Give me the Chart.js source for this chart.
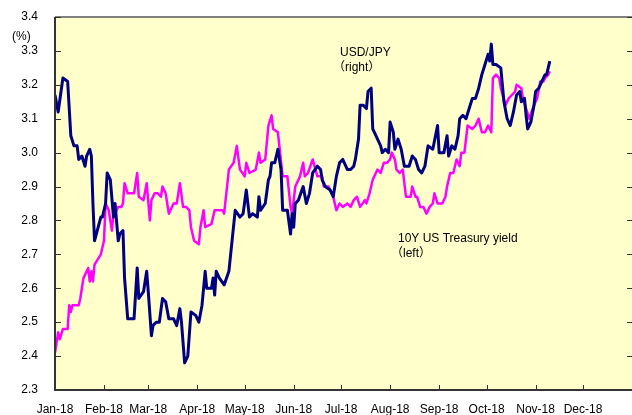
<!DOCTYPE html>
<html>
<head>
<meta charset="utf-8">
<script src="https://cdn.jsdelivr.net/npm/chart.js@4/dist/chart.umd.min.js"></script>
<style>
  html, body { margin: 0; padding: 0; background: #ffffff; }
  #wrap { width: 632px; height: 415px; }
</style>
</head>
<body>
<div id="wrap"><canvas id="chart" width="632" height="415"></canvas></div>
<script>

// =========================
// DATA
// =========================

// x axis: day of year 2018 (0 = Jan 1)
const monthStarts = [0, 31, 59, 90, 120, 151, 181, 212, 243, 273, 304, 334, 365];
const monthLabels = ["Jan-18", "Feb-18", "Mar-18", "Apr-18", "May-18", "Jun-18",
    "Jul-18", "Aug-18", "Sep-18", "Oct-18", "Nov-18", "Dec-18"];

const yieldTicks = [2.3, 2.4, 2.5, 2.6, 2.7, 2.8, 2.9, 3.0, 3.1, 3.2, 3.3, 3.4];
const jpyTicks = [104, 105, 106, 107, 108, 109, 110, 111, 112, 113, 114, 115];

// USD/JPY (right axis)
const jpyDays = [0, 2, 5, 8, 10, 12, 14, 15, 17, 19, 20, 22, 23, 24, 25, 29, 30, 32, 33, 35,
    37, 38, 40, 41, 43, 44, 46, 50, 52, 53, 56, 58, 59, 61, 62, 64, 66, 68, 70, 72,
    75, 77, 79, 80, 82, 84, 86, 89, 91, 93, 95, 96, 99, 100, 101, 102, 104, 107, 110, 114,
    117, 119, 121, 123, 125, 128, 129, 130, 133, 135, 136, 137, 139, 141, 143, 144, 147, 149, 150, 151,
    152, 154, 157, 159, 161, 163, 166, 168, 169, 171, 174, 176, 178, 180, 182, 185, 187, 189, 190, 192,
    193, 195, 197, 198, 200, 201, 203, 206, 207, 209, 211, 212, 214, 215, 217, 219, 221, 224, 226, 228,
    230, 232, 234, 236, 239, 242, 243, 246, 248, 249, 251, 253, 255, 256, 258, 260, 262, 264, 266, 268,
    270, 272, 274, 275, 276, 277, 279, 282, 284, 286, 288, 290, 292, 294, 295, 297, 298, 299, 301, 303,
    304, 306, 308, 310, 311, 313];
const jpyRate = [112.7, 112.2, 113.2, 113.1, 111.5, 111.2, 111.2, 110.8, 110.9, 110.6, 110.9, 111.1, 110.9, 109.5, 108.4, 109.1, 109.1, 109.5, 110.4, 110.2,
    109.1, 109.5, 108.4, 108.6, 108.7, 107.3, 106.1, 106.1, 107.6, 106.7, 106.9, 107.5, 106.9, 105.6, 105.9, 106.0, 106.0, 106.7, 106.6, 106.1,
    106.1, 105.9, 106.4, 106.0, 104.8, 105.0, 106.3, 106.2, 106.0, 106.5, 107.5, 107.0, 107.0, 107.3, 106.8, 107.5, 107.3, 107.1, 107.5, 109.3,
    109.1, 109.2, 109.9, 109.1, 109.2, 109.1, 109.7, 109.3, 109.5, 110.2, 110.3, 110.7, 110.7, 111.1, 110.5, 109.3, 109.3, 108.6, 109.2, 108.8,
    109.5, 109.6, 110.0, 109.5, 109.8, 110.4, 110.6, 110.5, 110.2, 110.0, 109.9, 109.7, 110.3, 110.7, 110.8, 110.5, 110.5, 110.6, 110.8, 111.4,
    112.4, 112.4, 112.3, 112.8, 112.9, 111.7, 111.5, 111.2, 111.0, 111.1, 111.0, 111.9, 111.6, 111.1, 111.4, 111.1, 110.6, 110.6, 110.9, 110.8,
    110.5, 110.4, 110.6, 111.2, 111.1, 111.8, 111.0, 111.0, 111.5, 110.9, 111.2, 111.1, 111.5, 112.0, 112.1, 112.0, 112.3, 112.6, 112.6, 112.9,
    113.3, 113.6, 113.9, 113.7, 114.2, 113.6, 113.6, 113.5, 112.5, 112.0, 111.8, 112.2, 112.7, 112.8, 112.5, 112.6, 112.1, 111.7, 111.9, 112.4,
    112.8, 112.9, 113.1, 113.3, 113.3, 113.7];

// 10Y US Treasury yield (left axis, %)
const ustDays = [0, 2, 3, 5, 8, 9, 10, 11, 15, 16, 18, 21, 22, 23, 24, 25, 29, 30, 31, 32,
    34, 36, 37, 39, 40, 42, 43, 44, 46, 50, 52, 53, 56, 58, 60, 61, 63, 65, 67, 68,
    70, 72, 75, 77, 79, 81, 83, 85, 86, 88, 91, 92, 94, 95, 99, 101, 106, 107, 110, 113,
    115, 117, 120, 121, 123, 127, 129, 130, 133, 135, 137, 138, 141, 144, 147, 149, 150, 152, 154, 155,
    157, 158, 160, 163, 166, 169, 170, 173, 176, 178, 180, 182, 185, 187, 189, 191, 193, 196, 197, 199,
    201, 204, 206, 208, 210, 212, 213, 215, 216, 218, 220, 222, 225, 226, 228, 229, 231, 233, 235, 237,
    239, 240, 242, 245, 247, 248, 250, 252, 254, 256, 257, 259, 261, 264, 266, 268, 270, 272, 274, 276,
    277, 279, 281, 282, 285, 287, 289, 291, 292, 295, 296, 298, 300, 303, 305, 307, 309, 310, 312, 313];
const ustYield = [2.41, 2.47, 2.45, 2.48, 2.48, 2.55, 2.53, 2.55, 2.55, 2.57, 2.63, 2.66, 2.62, 2.65, 2.62, 2.67, 2.70, 2.72, 2.74, 2.85,
    2.83, 2.77, 2.82, 2.83, 2.84, 2.84, 2.85, 2.91, 2.88, 2.88, 2.94, 2.87, 2.86, 2.91, 2.80, 2.86, 2.88, 2.88, 2.87, 2.90,
    2.88, 2.82, 2.85, 2.85, 2.91, 2.84, 2.84, 2.83, 2.78, 2.74, 2.73, 2.78, 2.83, 2.78, 2.79, 2.83, 2.83, 2.82, 2.95, 2.97,
    3.02, 2.95, 2.93, 2.97, 2.94, 2.95, 3.00, 2.97, 2.98, 3.08, 3.11, 3.07, 3.06, 2.93, 2.93, 2.84, 2.82, 2.90, 2.92, 2.93,
    2.97, 2.93, 2.94, 2.98, 2.93, 2.93, 2.90, 2.90, 2.87, 2.83, 2.85, 2.84, 2.85, 2.84, 2.86, 2.87, 2.84, 2.86, 2.85, 2.88,
    2.92, 2.95, 2.94, 2.97, 2.97, 2.98, 3.00, 2.98, 2.95, 2.94, 2.95, 2.87, 2.87, 2.90, 2.87, 2.87, 2.84, 2.84, 2.82, 2.84,
    2.85, 2.88, 2.85, 2.85, 2.87, 2.90, 2.94, 2.94, 2.98, 2.96, 3.00, 3.00, 3.08, 3.07, 3.08, 3.10, 3.06, 3.06, 3.08, 3.06,
    3.22, 3.23, 3.22, 3.19, 3.14, 3.16, 3.17, 3.18, 3.20, 3.19, 3.16, 3.13, 3.10, 3.14, 3.16, 3.21, 3.21, 3.22, 3.23, 3.24];

// =========================
// STYLE
// =========================

const FONT = '"Liberation Sans", Arial, "Noto Sans CJK JP", sans-serif';
const NAVY = "#000080";
const MAGENTA = "#ff00ff";

// scales get exact sizes, no label overhang padding
function fixSize(w, h) {
    return s => {
        if (w !== null) s.width = w;
        if (h !== null) s.height = h;
        s.paddingTop = 0;
        s.paddingBottom = 0;
        s.paddingLeft = 0;
        s.paddingRight = 0;
    };
}

// background, frame, inward ticks and notes
const framePlugin = {
    id: "frame",
    beforeDraw(chart) {
        const { ctx, chartArea: a } = chart;
        ctx.save();
        ctx.fillStyle = "#ffffcc";
        ctx.fillRect(a.left, a.top, a.right - a.left, a.bottom - a.top);
        ctx.restore();
    },
    afterDatasetsDraw(chart) {
        const { ctx, chartArea: a, scales } = chart;
        ctx.save();

        // top border
        ctx.strokeStyle = "#808080";
        ctx.lineWidth = 2;
        ctx.beginPath();
        ctx.moveTo(a.left, a.top);
        ctx.lineTo(a.right, a.top);
        ctx.stroke();

        // left + bottom axis lines
        ctx.strokeStyle = "#333333";
        ctx.beginPath();
        ctx.moveTo(a.left, a.top);
        ctx.lineTo(a.left, a.bottom);
        ctx.lineTo(a.right, a.bottom);
        ctx.stroke();

        // inward tick marks
        ctx.lineWidth = 1;
        ctx.beginPath();
        scales.y.ticks.forEach(t => {
            const py = Math.round(scales.y.getPixelForValue(t.value)) + 0.5;
            ctx.moveTo(a.left, py);
            ctx.lineTo(a.left + 6, py);
        });
        const rScale = scales.y2.ticks.length ? scales.y2 : scales.y;
        rScale.ticks.forEach(t => {
            const py = Math.round(rScale.getPixelForValue(t.value)) + 0.5;
            ctx.moveTo(a.right, py);
            ctx.lineTo(a.right - 5, py);
        });
        scales.x.ticks.forEach(t => {
            const px = Math.round(scales.x.getPixelForValue(t.value)) + 0.5;
            ctx.moveTo(px, a.bottom);
            ctx.lineTo(px, a.bottom - 5);
        });
        ctx.stroke();

        // notes
        ctx.fillStyle = "#000000";
        ctx.font = "12px " + FONT;
        ctx.textAlign = "left";
        ctx.textBaseline = "alphabetic";
        ctx.fillText("(%)", 12, 40);
        ctx.fillText("USD/JPY", 340, 56);
        ctx.fillText("（right）", 333, 71);
        ctx.fillText("10Y US Treasury yield", 398, 242);
        ctx.fillText("（left）", 391, 257);

        ctx.restore();
    }
};

// =========================
// CHART
// =========================

const ctx = document.getElementById("chart").getContext("2d");

new Chart(ctx, {
    type: "line",
    data: {
        datasets: [
            {
                label: "USD/JPY (right)",
                data: jpyDays.map((d, i) => ({ x: d, y: jpyRate[i] })),
                yAxisID: "y2",
                borderColor: NAVY,
                borderWidth: 3,
                borderJoinStyle: "round",
                pointRadius: 0,
                tension: 0,
                order: 0
            },
            {
                label: "10Y US Treasury yield (left)",
                data: ustDays.map((d, i) => ({ x: d, y: ustYield[i] })),
                yAxisID: "y",
                borderColor: MAGENTA,
                borderWidth: 2.5,
                borderJoinStyle: "round",
                pointRadius: 0,
                tension: 0,
                order: 1
            }
        ]
    },
    options: {
        responsive: false,
        animation: false,
        layout: {
            padding: { top: 17, right: 0, bottom: 0, left: 0 }
        },
        plugins: {
            legend: { display: false },
            tooltip: { enabled: false }
        },
        scales: {
            x: {
                type: "linear",
                min: 0,
                max: 365,
                afterBuildTicks: s => { s.ticks = monthStarts.map(v => ({ value: v })); },
                afterFit: fixSize(null, 25),
                grid: { display: false, drawTicks: false },
                border: { display: false },
                ticks: {
                    autoSkip: false,
                    maxRotation: 0,
                    padding: 12,
                    color: "#000000",
                    font: { family: FONT, size: 12 },
                    callback: (v, i) => monthLabels[i] || ""
                }
            },
            y: {
                position: "left",
                min: 2.3,
                max: 3.4,
                afterBuildTicks: s => { s.ticks = yieldTicks.map(v => ({ value: v })); },
                afterFit: fixSize(55, null),
                grid: { display: false, drawTicks: false },
                border: { display: false },
                ticks: {
                    padding: 17,
                    color: "#000000",
                    font: { family: FONT, size: 12 },
                    callback: v => Number(v).toFixed(1)
                }
            },
            y2: {
                position: "right",
                display: false,
                min: 104,
                max: 115,
                afterBuildTicks: s => { s.ticks = jpyTicks.map(v => ({ value: v })); },
                afterFit: fixSize(0, null)
            }
        }
    },
    plugins: [framePlugin]
});

</script>
</body>
</html>
